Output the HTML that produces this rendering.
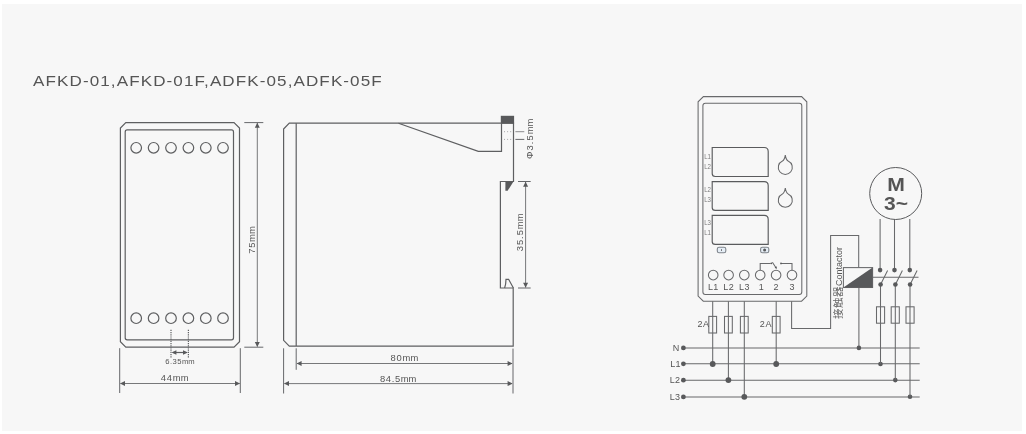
<!DOCTYPE html>
<html><head><meta charset="utf-8">
<style>
html,body{margin:0;padding:0;background:#fff;}
body{width:1026px;height:434px;overflow:hidden;position:relative;}
#panel{position:absolute;left:2px;top:4px;width:1020px;height:427px;background:#f7f7f7;}
svg{position:absolute;left:0;top:0;will-change:transform;}
text{font-family:"Liberation Sans",sans-serif;fill:#555;}
.l{stroke:#5e5f61;stroke-width:1.2;fill:none;}
.dm{stroke-width:1;stroke:#66676a;}
.f{fill:#58595b;stroke:none;}
#wiring .l{stroke:#68696b;stroke-width:1.05;}
#wiring .k{stroke-width:1.15;stroke:#5a5b5d;}
.d{font-size:9px;letter-spacing:0;}
.t{font-size:8.2px;letter-spacing:0.2px;}
.s{font-size:7.3px;fill:#7c7c7c;}
</style></head><body>
<div id="panel"></div>
<svg width="1026" height="434" viewBox="0 0 1026 434">
<text transform="translate(33.1 85.8) scale(1.1 1)" style="font-size:15.5px;fill:#555;letter-spacing:1px">AFKD-01,AFKD-01F,ADFK-05,ADFK-05F</text>

<!-- front view -->
<g id="front">
<path class="l" d="M125.8 122.6H234L239.5 128.1V341.7L234 347.2H125.8L120.4 341.7V128.1Z"/>
<rect class="l" x="125.2" y="129.9" width="108.3" height="209.9" rx="2"/>
<g class="l">
<circle cx="136.2" cy="147.8" r="5.3"/><circle cx="153.6" cy="147.8" r="5.3"/><circle cx="171" cy="147.8" r="5.3"/><circle cx="188.4" cy="147.8" r="5.3"/><circle cx="205.8" cy="147.8" r="5.3"/><circle cx="223" cy="147.8" r="5.3"/>
<circle cx="136.2" cy="318.2" r="5.3"/><circle cx="153.6" cy="318.2" r="5.3"/><circle cx="171" cy="318.2" r="5.3"/><circle cx="188.4" cy="318.2" r="5.3"/><circle cx="205.8" cy="318.2" r="5.3"/><circle cx="223" cy="318.2" r="5.3"/>
</g>
<!-- 75mm dim -->
<path class="l dm" d="M244.3 122.6H263.3M244.3 347.2H263.3"/><path class="l dm" style="stroke:#77787a" d="M257.3 123V346.5"/>
<path class="f" d="M257.3 122.8L259.8 127.8H254.8ZM257.3 347L259.8 342H254.8Z"/>
<text class="d" transform="translate(254.8 253.8) rotate(-90) scale(1.045 1)"><tspan letter-spacing="0.7">75</tspan>mm</text>
<!-- 6.35 -->
<path class="l" stroke-dasharray="1.2 1" d="M171 329.8V357.4M188.4 329.8V357.4"/>
<path class="l" d="M173 352.5H186.4"/>
<path class="f" d="M171.6 352.5L176.4 350.2V354.8ZM187.8 352.5L183 350.2V354.8Z"/>
<text transform="translate(165.3 364.3) scale(1.08 1)" style="font-size:7.1px"><tspan letter-spacing="0.4">6.35</tspan>mm</text>
<!-- 44 -->
<path class="l dm" d="M119.7 348.2V393M240.3 348.2V393"/><path class="l dm" style="stroke:#77787a" d="M120.5 383.5H239.7"/>
<path class="f" d="M120 383.5L125 381V386ZM240 383.5L235 381V386Z"/>
<text class="d" transform="translate(160.7 381.4) scale(1.045 1)"><tspan letter-spacing="0.8">44</tspan>mm</text>
</g>

<!-- side view -->
<g id="side">
<path class="l" d="M283.6 129L289.3 123.2H513.5V181.5H500.4V288H513.2V346.1H289.3L283.6 340.3Z"/>
<path class="l" d="M296.2 123.2V346.1"/>
<path class="l" d="M398.5 123.2L478.3 151.4H501.5V123.2"/>
<rect class="f" x="500.8" y="115.8" width="13.3" height="7.9"/>
<path class="l" style="stroke:#a5a6a8;stroke-width:1" stroke-dasharray="1 2.1" d="M504 131.7H513M504 139.4H513"/>
<path class="l" style="stroke:#8a8b8d;stroke-width:1" d="M515.4 131.7H524.3"/><path class="l dm" d="M515.4 139.4H524.3"/>
<text class="d" transform="translate(533 159) rotate(-90) scale(1.045 1)"><tspan letter-spacing="1">Φ3.5</tspan>mm</text>
<path class="f" d="M505.4 181.5H513.5L507.6 190.8H505.4Z"/>
<path class="l" d="M504.6 288Q506 284 506 279.3H508.6L513.4 288"/>
<!-- 35.5 -->
<path class="l dm" d="M518 181.5H530.7M518 288H530.7"/><path class="l dm" style="stroke:#77787a" d="M525.6 182V287.5"/>
<path class="f" d="M525.6 181.7L528.1 186.7H523.1ZM525.6 287.8L528.1 282.8H523.1Z"/>
<text class="d" transform="translate(523.3 251.2) rotate(-90) scale(1.045 1)"><tspan letter-spacing="0.9">35.5</tspan>mm</text>
<!-- 80 / 84.5 -->
<path class="l dm" d="M283.6 348.3V393.5M296.2 348.3V369.8M513 348.6V393.5"/><path class="l dm" style="stroke:#77787a" d="M297 363.5H512M284.4 383.6H512"/>
<path class="f" d="M296.6 363.5L301.6 361V366ZM512.6 363.5L507.6 361V366ZM284 383.6L289 381.1V386.1ZM512.6 383.6L507.6 381.1V386.1Z"/>
<text class="d" transform="translate(390.5 361.1) scale(1.045 1)"><tspan letter-spacing="0.8">80</tspan>mm</text>
<text class="d" transform="translate(380 381.5) scale(1.045 1)"><tspan letter-spacing="0.6">84.5</tspan>mm</text>
</g>

<!-- wiring -->
<g id="wiring">
<path class="l" d="M703.4 96.6H801.6L806.8 101.8V296L801.6 301.2H703.3L698.1 296V101.8Z"/>
<rect class="l" x="702.9" y="103.2" width="98.9" height="191.4" rx="2.5"/>
<path class="l k" d="M712.2 147.5H764.2Q768.2 147.5 768.2 151.5V176.5H715.2Q712.2 176.5 712.2 173.5Z"/>
<path class="l k" d="M712.2 181.6H764.2Q768.2 181.6 768.2 185.6V210.4H715.2Q712.2 210.4 712.2 207.4Z"/>
<path class="l k" d="M712.2 215.4H764.2Q768.2 215.4 768.2 219.4V244.4H715.2Q712.2 244.4 712.2 241.4Z"/>
<text class="s" x="704.2" y="158.8" textLength="6.8" lengthAdjust="spacingAndGlyphs">L1</text><text class="s" x="704.2" y="168.8" textLength="6.8" lengthAdjust="spacingAndGlyphs">L2</text>
<text class="s" x="704.2" y="192.2" textLength="6.8" lengthAdjust="spacingAndGlyphs">L2</text><text class="s" x="704.2" y="202.1" textLength="6.8" lengthAdjust="spacingAndGlyphs">L3</text>
<text class="s" x="704.2" y="225.3" textLength="6.8" lengthAdjust="spacingAndGlyphs">L3</text><text class="s" x="704.2" y="235.0" textLength="6.8" lengthAdjust="spacingAndGlyphs">L1</text>
<path class="l" d="M785.30 155.10Q786.00 159.81 788.15 161.01A7.00 7.00 0 1 1 782.45 161.01Q784.60 159.81 785.30 155.10Z"/>
<path class="l" d="M785.30 188.00Q786.00 192.71 788.15 193.91A7.00 7.00 0 1 1 782.45 193.91Q784.60 192.71 785.30 188.00Z"/>
<rect x="717.3" y="247.2" width="8.5" height="5.6" rx="1.8" fill="#e6eef6" stroke="#7f858c" stroke-width="1.1"/>
<rect x="721.1" y="249.1" width="0.8" height="1.9" class="f"/>
<rect x="760.6" y="247.2" width="8.2" height="5.6" rx="1.8" fill="#e6eef6" stroke="#7f858c" stroke-width="1.1"/>
<circle cx="764.6" cy="250" r="1.5" class="f"/>
<g class="l">
<circle cx="713.2" cy="275.1" r="4.8"/><circle cx="728.6" cy="275.1" r="4.8"/><circle cx="744.3" cy="275.1" r="4.8"/><circle cx="760.2" cy="275.1" r="4.8"/><circle cx="776.1" cy="275.1" r="4.8"/><circle cx="792" cy="275.1" r="4.8"/>
</g>
<path class="l" d="M760.2 270.3V263.4H770.6M772.4 262.3L776.3 268.2M792 270.3V263.4H781"/>
<circle class="f" cx="771.3" cy="263.3" r="0.9"/><circle class="f" cx="781" cy="263.4" r="0.9"/><path class="f" d="M776.8 269L774.6 267.6L776.6 266.3Z"/>
<text class="t" transform="translate(707.9 289.6) scale(1.1 1)" style="letter-spacing:0.4px">L1</text><text class="t" transform="translate(723.2 289.6) scale(1.1 1)" style="letter-spacing:0.4px">L2</text><text class="t" transform="translate(739.0 289.6) scale(1.1 1)" style="letter-spacing:0.4px">L3</text>
<text class="t" transform="translate(758.7 289.6) scale(1.1 1)">1</text><text class="t" transform="translate(773.5 289.6) scale(1.1 1)">2</text><text class="t" transform="translate(789.4 289.6) scale(1.1 1)">3</text>
<!-- wires down -->
<path class="l" d="M712.7 301.2V364M728.4 301.2V380.1M744.3 301.2V396.8M776.2 301.2V364M791.6 301.2V328.5H830.6V235.5H858.7V267.6M858.9 287.5V347.9"/>
<g class="l" fill="#f7f7f7">
<rect x="708.8" y="316.4" width="7.8" height="16.6" fill="none"/><rect x="724.5" y="316.4" width="7.8" height="16.6" fill="none"/><rect x="740.4" y="316.4" width="7.8" height="16.6" fill="none"/><rect x="772.3" y="316.4" width="7.8" height="16.6" fill="none"/>
<rect x="876.5" y="306.8" width="8.1" height="16.4" fill="none"/><rect x="891.2" y="306.8" width="8.1" height="16.4" fill="none"/><rect x="906" y="306.8" width="8.1" height="16.4" fill="none"/>
</g>
<text class="d" x="697.4" y="327.2" style="letter-spacing:0.7px">2A</text>
<text class="d" x="759.8" y="327.2" style="letter-spacing:0.7px">2A</text>
<!-- bus -->
<path class="l" d="M683.5 347.9H919.7M683.5 363.8H919.7M683.5 380.2H919.7M683.5 396.9H919.7"/>
<g class="f">
<circle cx="683.4" cy="347.9" r="2.4"/><circle cx="683.4" cy="363.8" r="2.4"/><circle cx="683.4" cy="380.2" r="2.4"/><circle cx="683.4" cy="396.9" r="2.4"/>
<circle cx="712.7" cy="364" r="2.9"/><circle cx="728.4" cy="380.1" r="2.9"/><circle cx="744.3" cy="396.8" r="2.9"/><circle cx="776.2" cy="364" r="2.9"/>
<circle cx="858.9" cy="347.9" r="2.3"/><circle cx="880.5" cy="364" r="2.3"/><circle cx="895.3" cy="380.1" r="2.3"/><circle cx="910" cy="396.8" r="2.3"/>
</g>
<text class="t" transform="translate(672.7 350.7) scale(1.1 1)">N</text><text class="t" transform="translate(670.2 366.7) scale(1.1 1)">L1</text><text class="t" transform="translate(669.7 382.7) scale(1.1 1)">L2</text><text class="t" transform="translate(669.7 399.5) scale(1.1 1)">L3</text>
<!-- contactor -->
<rect class="l" x="843.4" y="267.6" width="29.2" height="19.9"/>
<path class="f" d="M843.4 287.5L872.6 267.6V287.5Z"/>
<path class="l" d="M872.6 277.2H918.5"/>
<text transform="translate(841.6 318.9) rotate(-90)" style="font-size:9px;font-family:'Liberation Sans','Noto Sans CJK SC',sans-serif"><tspan style="font-size:10.5px;letter-spacing:0.5px;fill:#686868">接触器</tspan>Contactor</text>
<!-- switches -->
<path class="l" d="M880.1 270.1V219M894.5 270.1V219M909.8 270.1V219M880.5 284.5V364M895.3 284.5V380.1M910 284.5V396.8"/>
<path class="l" d="M880.6 284.5L887.6 270.6M895.4 284.5L902.4 270.6M910.1 284.5L917.1 270.6"/>
<g class="f"><circle cx="880.1" cy="270.1" r="2.3"/><circle cx="894.5" cy="270.1" r="2.3"/><circle cx="909.8" cy="270.1" r="2.3"/><circle cx="880.6" cy="284.5" r="2.3"/><circle cx="895.4" cy="284.5" r="2.3"/><circle cx="910.1" cy="284.5" r="2.3"/></g>
<!-- motor -->
<circle cx="895.7" cy="193.5" r="26" fill="#f7f7f7" stroke="#595a5c" stroke-width="1"/>
<text x="896" y="191.2" text-anchor="middle" style="font-size:19px;font-weight:bold;fill:#555" textLength="17.6" lengthAdjust="spacingAndGlyphs">M</text>
<text x="896" y="210.2" text-anchor="middle" style="font-size:18px;font-weight:bold;fill:#555" textLength="24" lengthAdjust="spacingAndGlyphs">3~</text>
</g>
</svg>
</body></html>
